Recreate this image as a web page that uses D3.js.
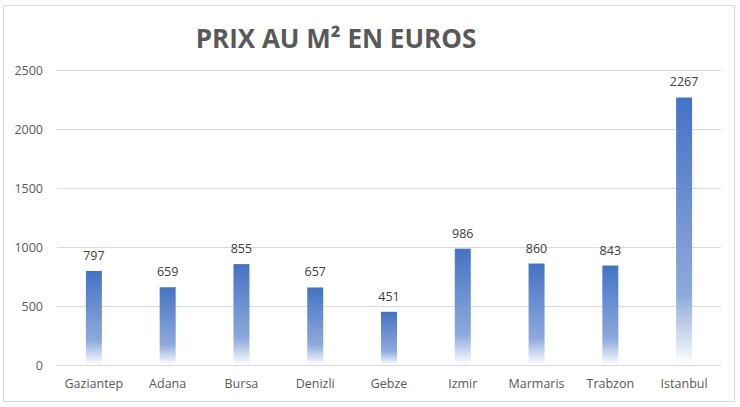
<!DOCTYPE html>
<html><head><meta charset="utf-8">
<script src="https://cdn.jsdelivr.net/npm/d3@7"></script>
<style>body{margin:0;background:#fff;}svg{display:block;}</style>
</head><body>
<svg id="c" width="740" height="407"></svg>
<script>
const categories = ["Gaziantep","Adana","Bursa","Denizli","Gebze","Izmir","Marmaris","Trabzon","Istanbul"];
const values = [797,659,855,657,451,986,860,843,2267];
const yTicks = [0,500,1000,1500,2000,2500];
const title = "PRIX AU M² EN EUROS";

const svg = d3.select("#c");
const font = "'Open Sans', 'Noto Sans', sans-serif";
svg.append("rect").attr("x",3.5).attr("y",5.5).attr("width",731).attr("height",396)
  .attr("fill","#fff").attr("stroke","#d9d9d9");

const x = d3.scaleBand().domain(categories).range([57,721]).paddingInner(0.78).paddingOuter(0.39);
const y = d3.scaleLinear().domain([0,2500]).range([365,70]);

const defs = svg.append("defs");
const g = defs.append("linearGradient").attr("id","bg").attr("x1",0).attr("y1",0).attr("x2",0).attr("y2",1);
g.append("stop").attr("offset","0%").attr("stop-color","#4472c4");
g.append("stop").attr("offset","74%").attr("stop-color","#8eaadc");
g.append("stop").attr("offset","100%").attr("stop-color","#ffffff");

svg.append("text").attr("x",336).attr("y",48).attr("text-anchor","middle")
  .attr("font-family",font).attr("font-weight","bold").attr("font-size",26)
  .attr("fill","#595959").text(title);

const grid = svg.append("g");
grid.selectAll("line").data(yTicks).join("line")
  .attr("x1",57).attr("x2",721).attr("y1",d=>Math.round(y(d))+0.5).attr("y2",d=>Math.round(y(d))+0.5)
  .attr("stroke","#d9d9d9").attr("stroke-width",1);

svg.append("g").selectAll("text").data(yTicks).join("text")
  .attr("x",43).attr("y",d=>y(d)+4.5).attr("text-anchor","end")
  .attr("font-family",font).attr("font-size",12.5).attr("fill","#595959").text(d=>d);

const bw = 16;
svg.append("g").selectAll("rect").data(values).join("rect")
  .attr("x",(d,i)=>x(categories[i])+x.bandwidth()/2-bw/2).attr("width",bw)
  .attr("y",d=>y(d)).attr("height",d=>y(0)-y(d)).attr("fill","url(#bg)");

svg.append("g").selectAll("text").data(values).join("text")
  .attr("x",(d,i)=>x(categories[i])+x.bandwidth()/2).attr("y",d=>y(d)-11)
  .attr("text-anchor","middle").attr("font-family",font).attr("font-size",12.5)
  .attr("fill","#404040").text(d=>d);

svg.append("g").selectAll("text").data(categories).join("text")
  .attr("x",d=>x(d)+x.bandwidth()/2).attr("y",388).attr("text-anchor","middle")
  .attr("font-family",font).attr("font-size",12.5).attr("fill","#595959").text(d=>d);
</script>
</body></html>
